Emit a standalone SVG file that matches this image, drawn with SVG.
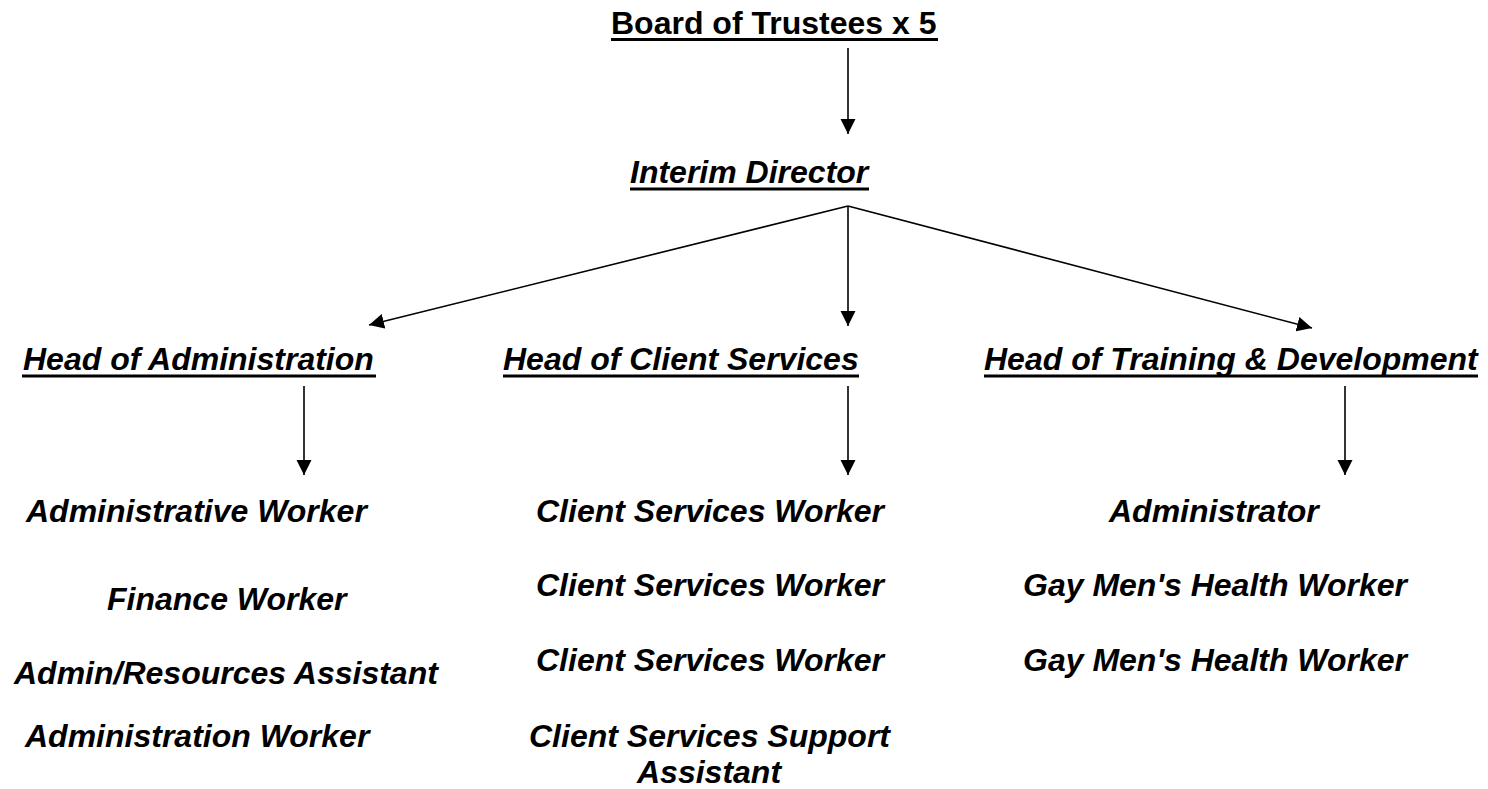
<svg xmlns="http://www.w3.org/2000/svg" width="1488" height="789" viewBox="0 0 1488 789">
<style>
  text { font-family: "Liberation Sans", Arial, sans-serif; font-size: 32px; font-weight: bold; font-style: italic; fill: #000; }
  text.upright { font-style: normal; }
  .ul { stroke: #000; stroke-width: 3; }
  .conn { stroke: #000; stroke-width: 1.6; fill: none; marker-end: url(#arrow); }
</style>
<defs>
  <marker id="arrow" markerUnits="userSpaceOnUse" markerWidth="16" markerHeight="16" viewBox="0 0 16 15" refX="15" refY="7.5" orient="auto">
    <path d="M0,0 L15,7.5 L0,15 z" fill="#000"/>
  </marker>
</defs>
<rect width="1488" height="789" fill="#fff"/>

<g id="connectors">
  <line class="conn" x1="848" y1="48" x2="848" y2="134"/>
  <line class="conn" x1="848" y1="206" x2="369" y2="325"/>
  <line class="conn" x1="848" y1="206" x2="848" y2="326"/>
  <line class="conn" x1="848" y1="206" x2="1312" y2="328"/>
  <line class="conn" x1="304" y1="386" x2="304" y2="475"/>
  <line class="conn" x1="848" y1="386" x2="848" y2="475"/>
  <line class="conn" x1="1345" y1="386" x2="1345" y2="475"/>
</g>

<g id="board">
  <text class="upright" x="611" y="34">Board of Trustees x 5</text>
  <line class="ul" x1="611" y1="39.5" x2="938" y2="39.5"/>
</g>
<g id="director">
  <text x="630" y="183">Interim Director</text>
  <line class="ul" x1="630" y1="189" x2="869" y2="189"/>
</g>
<g id="head-admin">
  <text x="23" y="370">Head of Administration</text>
  <line class="ul" x1="22" y1="376" x2="376" y2="376"/>
</g>
<g id="head-client">
  <text x="503" y="370">Head of Client Services</text>
  <line class="ul" x1="503" y1="376" x2="859" y2="376"/>
</g>
<g id="head-training">
  <text x="984" y="370">Head of Training &amp; Development</text>
  <line class="ul" x1="984" y1="376" x2="1478" y2="376"/>
</g>

<g id="admin-staff">
  <text x="26" y="522">Administrative Worker</text>
  <text x="107" y="610">Finance Worker</text>
  <text x="14" y="684">Admin/Resources Assistant</text>
  <text x="25" y="747">Administration Worker</text>
</g>
<g id="client-staff">
  <text x="536" y="522">Client Services Worker</text>
  <text x="536" y="596">Client Services Worker</text>
  <text x="536" y="671">Client Services Worker</text>
  <text x="529" y="747">Client Services Support</text>
  <text x="637" y="783">Assistant</text>
</g>
<g id="training-staff">
  <text x="1109" y="522">Administrator</text>
  <text x="1023" y="596">Gay Men's Health Worker</text>
  <text x="1023" y="671">Gay Men's Health Worker</text>
</g>
</svg>
